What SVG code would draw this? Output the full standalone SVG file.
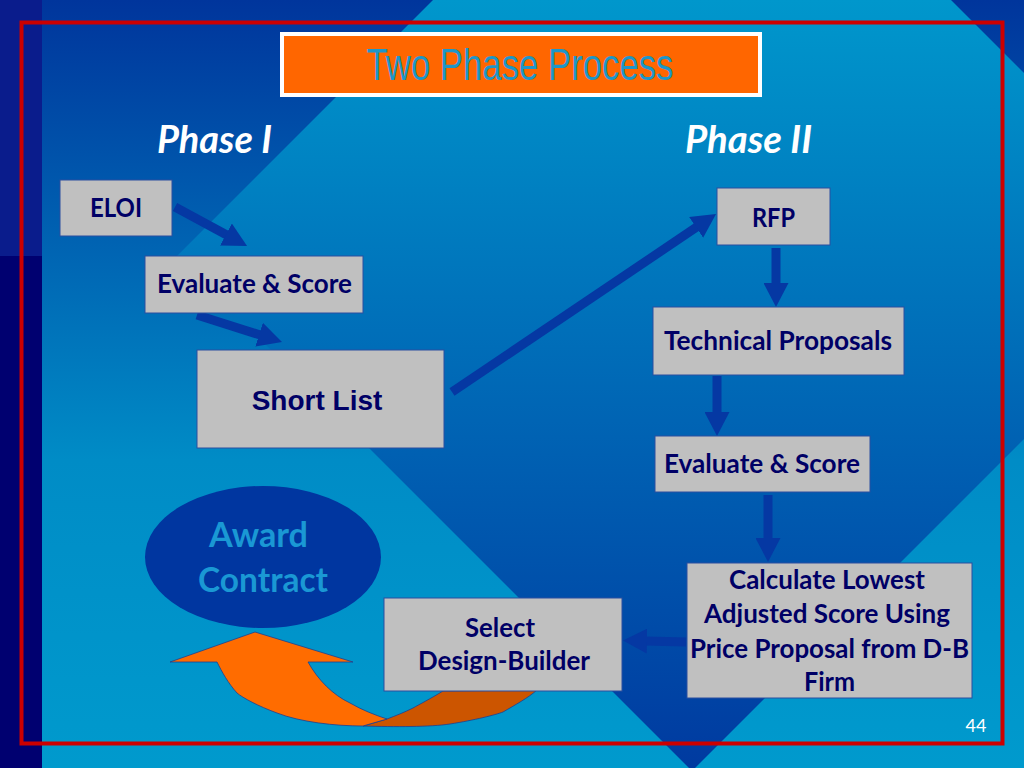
<svg xmlns="http://www.w3.org/2000/svg" width="1024" height="768" viewBox="0 0 1024 768">
<defs>
<linearGradient id="gOut" gradientUnits="userSpaceOnUse" x1="0" y1="0" x2="0" y2="768">
<stop offset="0" stop-color="#00359C"/>
<stop offset="0.6" stop-color="#008CC6"/>
<stop offset="1" stop-color="#009ACD"/>
</linearGradient>
<linearGradient id="gIn" gradientUnits="userSpaceOnUse" x1="0" y1="0" x2="0" y2="768">
<stop offset="0" stop-color="#0097CC"/>
<stop offset="1" stop-color="#003AA0"/>
</linearGradient>
<marker id="ah" viewBox="0 0 24 25" markerWidth="24" markerHeight="25" refX="2" refY="12.5" orient="auto" markerUnits="userSpaceOnUse">
<path d="M0,0 L24,12.5 L0,25 Z" fill="#0538A3"/>
</marker>
<style>
.box{fill:#C0C0C0;stroke:#2A4FA0;stroke-width:1}
.t{font-family:Lato,"Open Sans",sans-serif;font-weight:bold;font-size:26px;fill:#000066;text-anchor:middle}
.ph{font-family:Lato,"Open Sans",sans-serif;font-weight:bold;font-style:italic;font-size:38px;fill:#FFFFFF;text-anchor:middle}
.aw{font-family:Lato,"Open Sans",sans-serif;font-weight:bold;font-size:34px;fill:#1A98D4;text-anchor:middle}
.ar{stroke:#0538A3;stroke-width:9;fill:none;marker-end:url(#ah)}
</style>
</defs>
<!-- background -->
<rect x="0" y="0" width="1024" height="768" fill="url(#gOut)"/>
<polygon points="692,-259 1207,256 692,771 177,256" fill="url(#gIn)"/>
<rect x="0" y="0" width="42" height="256" fill="#0A1C8C"/>
<rect x="0" y="256" width="42" height="512" fill="#000070"/>
<rect x="21.5" y="22.5" width="981" height="721" fill="none" stroke="#CC0000" stroke-width="4"/>
<!-- title -->
<g id="title">
<rect x="282" y="34" width="478" height="61" fill="#FF6600" stroke="#FFFFFF" stroke-width="4"/>
<text x="520" y="80" font-family="Liberation Sans,Arial,sans-serif" font-size="44" fill="#1E96C8" text-anchor="middle" textLength="307" lengthAdjust="spacingAndGlyphs">Two Phase Process</text>
</g>
<g id="phase1"><text class="ph" x="214.5" y="153" textLength="115" lengthAdjust="spacingAndGlyphs">Phase I</text></g>
<g id="phase2"><text class="ph" x="748.5" y="153" textLength="127" lengthAdjust="spacingAndGlyphs">Phase II</text></g>
<!-- orange back band (behind Select box) -->
<g id="curved-arrow-back">
<path d="M363,726 C395,727 430,727 450,724 C475,720 495,715 503,712 C515,705 528,698 537,690 L443,691 C430,699 420,704 413,708 C405,712 395,716 387,719 Z" fill="#CC5500" stroke="#1F3F8F" stroke-width="0.8"/>
</g>
<!-- connectors -->
<g id="connectors">
<line class="ar" x1="175" y1="207" x2="227.7" y2="235.5"/>
<line class="ar" x1="197" y1="315" x2="261" y2="335.3"/>
<line class="ar" x1="452" y1="392" x2="697.8" y2="226.3"/>
<line class="ar" x1="776" y1="248" x2="776" y2="285"/>
<line class="ar" x1="717" y1="376" x2="717" y2="414"/>
<line class="ar" x1="768" y1="495" x2="768" y2="540"/>
<line class="ar" x1="686" y1="642" x2="645" y2="641"/>
</g>
<!-- nodes -->
<g id="eloi"><rect class="box" x="60" y="180" width="112" height="56"/><text class="t" x="116" y="217" textLength="52" lengthAdjust="spacingAndGlyphs">ELOI</text></g>
<g id="evaluate1"><rect class="box" x="145" y="256" width="218" height="57"/><text class="t" x="254.5" y="293" textLength="195" lengthAdjust="spacingAndGlyphs">Evaluate &amp; Score</text></g>
<g id="shortlist"><rect class="box" x="197" y="350" width="247" height="98"/><text x="317" y="410" font-family="Liberation Sans,Arial,sans-serif" font-weight="bold" font-size="28" fill="#000066" text-anchor="middle">Short List</text></g>
<g id="rfp"><rect class="box" x="717" y="188" width="113" height="57"/><text class="t" x="773.5" y="227" textLength="43" lengthAdjust="spacingAndGlyphs">RFP</text></g>
<g id="technical"><rect class="box" x="653" y="307" width="251" height="68"/><text class="t" x="778" y="350" textLength="228" lengthAdjust="spacingAndGlyphs">Technical Proposals</text></g>
<g id="evaluate2"><rect class="box" x="655" y="436" width="215" height="56"/><text class="t" x="762" y="473" textLength="196" lengthAdjust="spacingAndGlyphs">Evaluate &amp; Score</text></g>
<g id="calculate"><rect class="box" x="687" y="563" width="285" height="135"/>
<text class="t" x="827" y="589" textLength="196" lengthAdjust="spacingAndGlyphs">Calculate Lowest</text>
<text class="t" x="827" y="623" textLength="246" lengthAdjust="spacingAndGlyphs">Adjusted Score Using</text>
<text class="t" x="829.5" y="658" textLength="279" lengthAdjust="spacingAndGlyphs">Price Proposal from D-B</text>
<text class="t" x="829.5" y="691" textLength="51" lengthAdjust="spacingAndGlyphs">Firm</text></g>
<g id="select"><rect class="box" x="384" y="598" width="238" height="93"/>
<text class="t" x="500" y="637" textLength="70" lengthAdjust="spacingAndGlyphs">Select</text>
<text class="t" x="504" y="670" textLength="172" lengthAdjust="spacingAndGlyphs">Design-Builder</text></g>
<g id="award"><ellipse cx="263" cy="557" rx="118" ry="71" fill="#0036A0"/>
<text class="aw" x="258.5" y="547" textLength="99" lengthAdjust="spacingAndGlyphs">Award</text>
<text class="aw" x="263" y="592" textLength="130" lengthAdjust="spacingAndGlyphs">Contract</text></g>
<!-- orange front band with head -->
<g id="curved-arrow-front">
<path d="M170,662 L255,632 L353,662 L308,662 C318,680 333,695 350,703 C362,710 375,715 387,719 L363,726 C335,726 300,722 277,713 C258,706 243,698 237,693 C228,683 222,672 217,662 Z" fill="#FF6C00" stroke="#1F3F8F" stroke-width="0.8"/>
</g>
<text x="976" y="732" font-family="Lato,'Open Sans',sans-serif" font-size="18" fill="#FFFFFF" text-anchor="middle">44</text>
</svg>
